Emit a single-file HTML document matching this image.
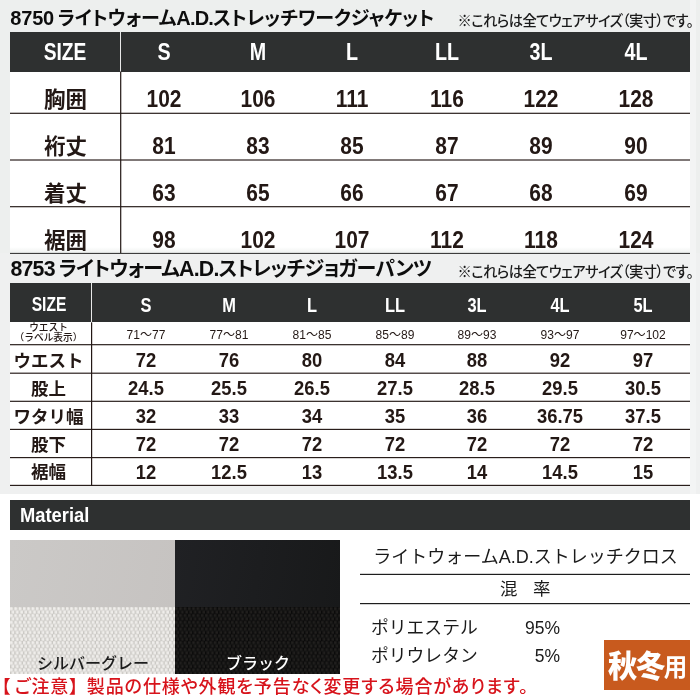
<!DOCTYPE html>
<html lang="ja"><head><meta charset="utf-8"><title>サイズ表</title>
<style>
html,body{margin:0;padding:0}
body{width:700px;height:700px;position:relative;overflow:hidden;background:#fff;font-family:"Liberation Sans","Noto Sans CJK JP",sans-serif}
#c{position:absolute;left:0;top:0;width:700px;height:700px;overflow:hidden}
#c div{position:absolute}
.t{white-space:nowrap;line-height:1}
</style></head><body><div id="c">
<div style="left:0px;top:0px;width:700px;height:253px;background:#edefee;"></div>
<div style="left:0px;top:253px;width:700px;height:241px;background:#eff0f0;"></div>
<div style="left:690px;top:0px;width:6px;height:494px;background:#f3f4f4;"></div>
<div style="left:0px;top:494px;width:700px;height:206px;background:#ffffff;"></div>
<div style="left:10px;top:32px;width:680px;height:216px;background:#ffffff;"></div>
<div style="left:10px;top:247px;width:680px;height:5.5px;background:#edefee;background-image:linear-gradient(#fff,#eef0ef);"></div>
<div style="left:10px;top:32px;width:680px;height:39.5px;background:#2e3030;"></div>
<div style="left:120px;top:32px;width:1px;height:40px;background:#e8e8e8;"></div>
<div class="t" style="left:65px;top:51.5px;font-size:24px;color:#fff;font-weight:700;transform:translate(-50%,-50%) scaleX(0.8);transform-origin:center;">SIZE</div>
<div class="t" style="left:163.5px;top:51.5px;font-size:24px;color:#fff;font-weight:700;transform:translate(-50%,-50%) scaleX(0.82);transform-origin:center;">S</div>
<div class="t" style="left:257.5px;top:51.5px;font-size:24px;color:#fff;font-weight:700;transform:translate(-50%,-50%) scaleX(0.82);transform-origin:center;">M</div>
<div class="t" style="left:352px;top:51.5px;font-size:24px;color:#fff;font-weight:700;transform:translate(-50%,-50%) scaleX(0.82);transform-origin:center;">L</div>
<div class="t" style="left:446.5px;top:51.5px;font-size:24px;color:#fff;font-weight:700;transform:translate(-50%,-50%) scaleX(0.82);transform-origin:center;">LL</div>
<div class="t" style="left:541px;top:51.5px;font-size:24px;color:#fff;font-weight:700;transform:translate(-50%,-50%) scaleX(0.82);transform-origin:center;">3L</div>
<div class="t" style="left:635.5px;top:51.5px;font-size:24px;color:#fff;font-weight:700;transform:translate(-50%,-50%) scaleX(0.82);transform-origin:center;">4L</div>
<div class="t" style="left:65.5px;top:100.6px;font-size:21.5px;color:#231815;font-weight:700;transform:translate(-50%,-50%) scaleX(1.0);transform-origin:center;">胸囲</div>
<div class="t" style="left:163.5px;top:98.6px;font-size:24.2px;color:#231815;font-weight:700;transform:translate(-50%,-50%) scaleX(0.865);transform-origin:center;">102</div>
<div class="t" style="left:257.5px;top:98.6px;font-size:24.2px;color:#231815;font-weight:700;transform:translate(-50%,-50%) scaleX(0.865);transform-origin:center;">106</div>
<div class="t" style="left:352px;top:98.6px;font-size:24.2px;color:#231815;font-weight:700;transform:translate(-50%,-50%) scaleX(0.865);transform-origin:center;">111</div>
<div class="t" style="left:446.5px;top:98.6px;font-size:24.2px;color:#231815;font-weight:700;transform:translate(-50%,-50%) scaleX(0.865);transform-origin:center;">116</div>
<div class="t" style="left:541px;top:98.6px;font-size:24.2px;color:#231815;font-weight:700;transform:translate(-50%,-50%) scaleX(0.865);transform-origin:center;">122</div>
<div class="t" style="left:635.5px;top:98.6px;font-size:24.2px;color:#231815;font-weight:700;transform:translate(-50%,-50%) scaleX(0.865);transform-origin:center;">128</div>
<div class="t" style="left:65.5px;top:147.7px;font-size:21.5px;color:#231815;font-weight:700;transform:translate(-50%,-50%) scaleX(1.0);transform-origin:center;">裄丈</div>
<div class="t" style="left:163.5px;top:145.7px;font-size:24.2px;color:#231815;font-weight:700;transform:translate(-50%,-50%) scaleX(0.865);transform-origin:center;">81</div>
<div class="t" style="left:257.5px;top:145.7px;font-size:24.2px;color:#231815;font-weight:700;transform:translate(-50%,-50%) scaleX(0.865);transform-origin:center;">83</div>
<div class="t" style="left:352px;top:145.7px;font-size:24.2px;color:#231815;font-weight:700;transform:translate(-50%,-50%) scaleX(0.865);transform-origin:center;">85</div>
<div class="t" style="left:446.5px;top:145.7px;font-size:24.2px;color:#231815;font-weight:700;transform:translate(-50%,-50%) scaleX(0.865);transform-origin:center;">87</div>
<div class="t" style="left:541px;top:145.7px;font-size:24.2px;color:#231815;font-weight:700;transform:translate(-50%,-50%) scaleX(0.865);transform-origin:center;">89</div>
<div class="t" style="left:635.5px;top:145.7px;font-size:24.2px;color:#231815;font-weight:700;transform:translate(-50%,-50%) scaleX(0.865);transform-origin:center;">90</div>
<div class="t" style="left:65.5px;top:194.9px;font-size:21.5px;color:#231815;font-weight:700;transform:translate(-50%,-50%) scaleX(1.0);transform-origin:center;">着丈</div>
<div class="t" style="left:163.5px;top:192.9px;font-size:24.2px;color:#231815;font-weight:700;transform:translate(-50%,-50%) scaleX(0.865);transform-origin:center;">63</div>
<div class="t" style="left:257.5px;top:192.9px;font-size:24.2px;color:#231815;font-weight:700;transform:translate(-50%,-50%) scaleX(0.865);transform-origin:center;">65</div>
<div class="t" style="left:352px;top:192.9px;font-size:24.2px;color:#231815;font-weight:700;transform:translate(-50%,-50%) scaleX(0.865);transform-origin:center;">66</div>
<div class="t" style="left:446.5px;top:192.9px;font-size:24.2px;color:#231815;font-weight:700;transform:translate(-50%,-50%) scaleX(0.865);transform-origin:center;">67</div>
<div class="t" style="left:541px;top:192.9px;font-size:24.2px;color:#231815;font-weight:700;transform:translate(-50%,-50%) scaleX(0.865);transform-origin:center;">68</div>
<div class="t" style="left:635.5px;top:192.9px;font-size:24.2px;color:#231815;font-weight:700;transform:translate(-50%,-50%) scaleX(0.865);transform-origin:center;">69</div>
<div class="t" style="left:65.5px;top:242px;font-size:21.5px;color:#231815;font-weight:700;transform:translate(-50%,-50%) scaleX(1.0);transform-origin:center;">裾囲</div>
<div class="t" style="left:163.5px;top:240px;font-size:24.2px;color:#231815;font-weight:700;transform:translate(-50%,-50%) scaleX(0.865);transform-origin:center;">98</div>
<div class="t" style="left:257.5px;top:240px;font-size:24.2px;color:#231815;font-weight:700;transform:translate(-50%,-50%) scaleX(0.865);transform-origin:center;">102</div>
<div class="t" style="left:352px;top:240px;font-size:24.2px;color:#231815;font-weight:700;transform:translate(-50%,-50%) scaleX(0.865);transform-origin:center;">107</div>
<div class="t" style="left:446.5px;top:240px;font-size:24.2px;color:#231815;font-weight:700;transform:translate(-50%,-50%) scaleX(0.865);transform-origin:center;">112</div>
<div class="t" style="left:541px;top:240px;font-size:24.2px;color:#231815;font-weight:700;transform:translate(-50%,-50%) scaleX(0.865);transform-origin:center;">118</div>
<div class="t" style="left:635.5px;top:240px;font-size:24.2px;color:#231815;font-weight:700;transform:translate(-50%,-50%) scaleX(0.865);transform-origin:center;">124</div>
<div class="t" style="left:10.3px;top:18.0px;color:#0d0d0d;font-weight:700;font-size:19px;font-feature-settings:'palt' 1;transform:translate(0,-50%)"><span style="font-size:20px;letter-spacing:-0.2px">8750</span><span style="font-size:20px;letter-spacing:-2px"> </span><span style="letter-spacing:-0.1px">ライトウォーム</span><span style="font-size:20px;letter-spacing:-0.8px">A.D.</span><span style="letter-spacing:-0.1px">ストレッチワークジャケット</span></div>
<div class="t" style="left:693.2px;top:21.2px;font-size:14.3px;color:#1a1a1a;font-weight:500;transform:translate(-100%,-50%) scaleX(1.0);transform-origin:right center;font-feature-settings:'palt' 1;letter-spacing:-0.55px;">※これらは全てウェアサイズ（実寸）です。</div>
<div class="t" style="left:10.5px;top:269.6px;color:#0d0d0d;font-weight:700;font-size:20px;font-feature-settings:'palt' 1;transform:translate(0,-50%)"><span style="font-size:21.3px;letter-spacing:-0.8px">8753</span><span style="font-size:21.3px;letter-spacing:-2px"> </span><span style="letter-spacing:-0.75px">ライトウォーム</span><span style="font-size:21.3px;letter-spacing:-0.8px">A.D.</span><span style="letter-spacing:-0.75px">ストレッチジョガーパンツ</span></div>
<div class="t" style="left:693.2px;top:272.2px;font-size:14.3px;color:#1a1a1a;font-weight:500;transform:translate(-100%,-50%) scaleX(1.0);transform-origin:right center;font-feature-settings:'palt' 1;letter-spacing:-0.55px;">※これらは全てウェアサイズ（実寸）です。</div>
<div style="left:10px;top:283px;width:680px;height:203px;background:#ffffff;"></div>
<div style="left:10px;top:283px;width:680px;height:39.4px;background:#2e3030;"></div>
<div style="left:91px;top:283px;width:1px;height:40px;background:#e8e8e8;"></div>
<div class="t" style="left:48.5px;top:304.5px;font-size:19.5px;color:#fff;font-weight:700;transform:translate(-50%,-50%) scaleX(0.8);transform-origin:center;">SIZE</div>
<div class="t" style="left:146.4px;top:305px;font-size:20px;color:#fff;font-weight:700;transform:translate(-50%,-50%) scaleX(0.82);transform-origin:center;">S</div>
<div class="t" style="left:229.1px;top:305px;font-size:20px;color:#fff;font-weight:700;transform:translate(-50%,-50%) scaleX(0.82);transform-origin:center;">M</div>
<div class="t" style="left:311.8px;top:305px;font-size:20px;color:#fff;font-weight:700;transform:translate(-50%,-50%) scaleX(0.82);transform-origin:center;">L</div>
<div class="t" style="left:394.5px;top:305px;font-size:20px;color:#fff;font-weight:700;transform:translate(-50%,-50%) scaleX(0.82);transform-origin:center;">LL</div>
<div class="t" style="left:477.2px;top:305px;font-size:20px;color:#fff;font-weight:700;transform:translate(-50%,-50%) scaleX(0.82);transform-origin:center;">3L</div>
<div class="t" style="left:559.9px;top:305px;font-size:20px;color:#fff;font-weight:700;transform:translate(-50%,-50%) scaleX(0.82);transform-origin:center;">4L</div>
<div class="t" style="left:642.6px;top:305px;font-size:20px;color:#fff;font-weight:700;transform:translate(-50%,-50%) scaleX(0.82);transform-origin:center;">5L</div>
<div class="t" style="left:48.5px;top:333px;font-size:9.7px;line-height:10.2px;color:#231815;font-weight:500;text-align:center;transform:translate(-50%,-50%)">ウエスト<br>（ラベル表示）</div>
<div class="t" style="left:146.4px;top:335.3px;font-size:12.3px;color:#231815;font-weight:400;transform:translate(-50%,-50%) scaleX(0.98);transform-origin:center;">71～77</div>
<div class="t" style="left:229.1px;top:335.3px;font-size:12.3px;color:#231815;font-weight:400;transform:translate(-50%,-50%) scaleX(0.98);transform-origin:center;">77～81</div>
<div class="t" style="left:311.8px;top:335.3px;font-size:12.3px;color:#231815;font-weight:400;transform:translate(-50%,-50%) scaleX(0.98);transform-origin:center;">81～85</div>
<div class="t" style="left:394.5px;top:335.3px;font-size:12.3px;color:#231815;font-weight:400;transform:translate(-50%,-50%) scaleX(0.98);transform-origin:center;">85～89</div>
<div class="t" style="left:477.2px;top:335.3px;font-size:12.3px;color:#231815;font-weight:400;transform:translate(-50%,-50%) scaleX(0.98);transform-origin:center;">89～93</div>
<div class="t" style="left:559.9px;top:335.3px;font-size:12.3px;color:#231815;font-weight:400;transform:translate(-50%,-50%) scaleX(0.98);transform-origin:center;">93～97</div>
<div class="t" style="left:642.6px;top:335.3px;font-size:12.3px;color:#231815;font-weight:400;transform:translate(-50%,-50%) scaleX(0.98);transform-origin:center;">97～102</div>
<div class="t" style="left:48.5px;top:361.5px;font-size:17.5px;color:#231815;font-weight:700;transform:translate(-50%,-50%) scaleX(1.0);transform-origin:center;">ウエスト</div>
<div class="t" style="left:146.4px;top:360.3px;font-size:20px;color:#231815;font-weight:700;transform:translate(-50%,-50%) scaleX(0.92);transform-origin:center;">72</div>
<div class="t" style="left:229.1px;top:360.3px;font-size:20px;color:#231815;font-weight:700;transform:translate(-50%,-50%) scaleX(0.92);transform-origin:center;">76</div>
<div class="t" style="left:311.8px;top:360.3px;font-size:20px;color:#231815;font-weight:700;transform:translate(-50%,-50%) scaleX(0.92);transform-origin:center;">80</div>
<div class="t" style="left:394.5px;top:360.3px;font-size:20px;color:#231815;font-weight:700;transform:translate(-50%,-50%) scaleX(0.92);transform-origin:center;">84</div>
<div class="t" style="left:477.2px;top:360.3px;font-size:20px;color:#231815;font-weight:700;transform:translate(-50%,-50%) scaleX(0.92);transform-origin:center;">88</div>
<div class="t" style="left:559.9px;top:360.3px;font-size:20px;color:#231815;font-weight:700;transform:translate(-50%,-50%) scaleX(0.92);transform-origin:center;">92</div>
<div class="t" style="left:642.6px;top:360.3px;font-size:20px;color:#231815;font-weight:700;transform:translate(-50%,-50%) scaleX(0.92);transform-origin:center;">97</div>
<div class="t" style="left:48.5px;top:389.5px;font-size:17.5px;color:#231815;font-weight:700;transform:translate(-50%,-50%) scaleX(1.0);transform-origin:center;">股上</div>
<div class="t" style="left:146.4px;top:388.3px;font-size:20px;color:#231815;font-weight:700;transform:translate(-50%,-50%) scaleX(0.92);transform-origin:center;">24.5</div>
<div class="t" style="left:229.1px;top:388.3px;font-size:20px;color:#231815;font-weight:700;transform:translate(-50%,-50%) scaleX(0.92);transform-origin:center;">25.5</div>
<div class="t" style="left:311.8px;top:388.3px;font-size:20px;color:#231815;font-weight:700;transform:translate(-50%,-50%) scaleX(0.92);transform-origin:center;">26.5</div>
<div class="t" style="left:394.5px;top:388.3px;font-size:20px;color:#231815;font-weight:700;transform:translate(-50%,-50%) scaleX(0.92);transform-origin:center;">27.5</div>
<div class="t" style="left:477.2px;top:388.3px;font-size:20px;color:#231815;font-weight:700;transform:translate(-50%,-50%) scaleX(0.92);transform-origin:center;">28.5</div>
<div class="t" style="left:559.9px;top:388.3px;font-size:20px;color:#231815;font-weight:700;transform:translate(-50%,-50%) scaleX(0.92);transform-origin:center;">29.5</div>
<div class="t" style="left:642.6px;top:388.3px;font-size:20px;color:#231815;font-weight:700;transform:translate(-50%,-50%) scaleX(0.92);transform-origin:center;">30.5</div>
<div class="t" style="left:48.5px;top:417.5px;font-size:17.5px;color:#231815;font-weight:700;transform:translate(-50%,-50%) scaleX(1.0);transform-origin:center;">ワタリ幅</div>
<div class="t" style="left:146.4px;top:416.3px;font-size:20px;color:#231815;font-weight:700;transform:translate(-50%,-50%) scaleX(0.92);transform-origin:center;">32</div>
<div class="t" style="left:229.1px;top:416.3px;font-size:20px;color:#231815;font-weight:700;transform:translate(-50%,-50%) scaleX(0.92);transform-origin:center;">33</div>
<div class="t" style="left:311.8px;top:416.3px;font-size:20px;color:#231815;font-weight:700;transform:translate(-50%,-50%) scaleX(0.92);transform-origin:center;">34</div>
<div class="t" style="left:394.5px;top:416.3px;font-size:20px;color:#231815;font-weight:700;transform:translate(-50%,-50%) scaleX(0.92);transform-origin:center;">35</div>
<div class="t" style="left:477.2px;top:416.3px;font-size:20px;color:#231815;font-weight:700;transform:translate(-50%,-50%) scaleX(0.92);transform-origin:center;">36</div>
<div class="t" style="left:559.9px;top:416.3px;font-size:20px;color:#231815;font-weight:700;transform:translate(-50%,-50%) scaleX(0.92);transform-origin:center;">36.75</div>
<div class="t" style="left:642.6px;top:416.3px;font-size:20px;color:#231815;font-weight:700;transform:translate(-50%,-50%) scaleX(0.92);transform-origin:center;">37.5</div>
<div class="t" style="left:48.5px;top:445.59999999999997px;font-size:17.5px;color:#231815;font-weight:700;transform:translate(-50%,-50%) scaleX(1.0);transform-origin:center;">股下</div>
<div class="t" style="left:146.4px;top:444.4px;font-size:20px;color:#231815;font-weight:700;transform:translate(-50%,-50%) scaleX(0.92);transform-origin:center;">72</div>
<div class="t" style="left:229.1px;top:444.4px;font-size:20px;color:#231815;font-weight:700;transform:translate(-50%,-50%) scaleX(0.92);transform-origin:center;">72</div>
<div class="t" style="left:311.8px;top:444.4px;font-size:20px;color:#231815;font-weight:700;transform:translate(-50%,-50%) scaleX(0.92);transform-origin:center;">72</div>
<div class="t" style="left:394.5px;top:444.4px;font-size:20px;color:#231815;font-weight:700;transform:translate(-50%,-50%) scaleX(0.92);transform-origin:center;">72</div>
<div class="t" style="left:477.2px;top:444.4px;font-size:20px;color:#231815;font-weight:700;transform:translate(-50%,-50%) scaleX(0.92);transform-origin:center;">72</div>
<div class="t" style="left:559.9px;top:444.4px;font-size:20px;color:#231815;font-weight:700;transform:translate(-50%,-50%) scaleX(0.92);transform-origin:center;">72</div>
<div class="t" style="left:642.6px;top:444.4px;font-size:20px;color:#231815;font-weight:700;transform:translate(-50%,-50%) scaleX(0.92);transform-origin:center;">72</div>
<div class="t" style="left:48.5px;top:473.3px;font-size:17.5px;color:#231815;font-weight:700;transform:translate(-50%,-50%) scaleX(1.0);transform-origin:center;">裾幅</div>
<div class="t" style="left:146.4px;top:472.1px;font-size:20px;color:#231815;font-weight:700;transform:translate(-50%,-50%) scaleX(0.92);transform-origin:center;">12</div>
<div class="t" style="left:229.1px;top:472.1px;font-size:20px;color:#231815;font-weight:700;transform:translate(-50%,-50%) scaleX(0.92);transform-origin:center;">12.5</div>
<div class="t" style="left:311.8px;top:472.1px;font-size:20px;color:#231815;font-weight:700;transform:translate(-50%,-50%) scaleX(0.92);transform-origin:center;">13</div>
<div class="t" style="left:394.5px;top:472.1px;font-size:20px;color:#231815;font-weight:700;transform:translate(-50%,-50%) scaleX(0.92);transform-origin:center;">13.5</div>
<div class="t" style="left:477.2px;top:472.1px;font-size:20px;color:#231815;font-weight:700;transform:translate(-50%,-50%) scaleX(0.92);transform-origin:center;">14</div>
<div class="t" style="left:559.9px;top:472.1px;font-size:20px;color:#231815;font-weight:700;transform:translate(-50%,-50%) scaleX(0.92);transform-origin:center;">14.5</div>
<div class="t" style="left:642.6px;top:472.1px;font-size:20px;color:#231815;font-weight:700;transform:translate(-50%,-50%) scaleX(0.92);transform-origin:center;">15</div>
<div style="left:10px;top:500px;width:680px;height:29.6px;background:#2e3030;"></div>
<div class="t" style="left:19.7px;top:516px;font-size:19.5px;color:#fff;font-weight:700;transform:translate(0,-50%) scaleX(0.94);transform-origin:left center;">Material</div>
<div style="left:10px;top:540px;width:165px;height:66.7px;background:#c9c6c4;background-image:linear-gradient(100deg,#cbc9c7,#c6c3c1);"></div>
<div style="left:10px;top:606.7px;width:165px;height:67px;background:#c9c7c3;background-image:radial-gradient(circle at 27% 25%, #f3f2f0 0, #eae8e5 20%, rgba(214,212,208,0) 46%),radial-gradient(circle at 77% 75%, #f3f2f0 0, #eae8e5 20%, rgba(214,212,208,0) 46%);background-size:4.3px 6.8px;"></div>
<div style="left:175px;top:540px;width:165px;height:66.7px;background:#1b1c1e;background-image:linear-gradient(100deg,#202124,#18191a);"></div>
<div style="left:175px;top:606.7px;width:165px;height:67px;background:#0a0a0a;background-image:radial-gradient(circle at 27% 25%, #262422 0, #1a1918 22%, rgba(12,12,11,0) 48%),radial-gradient(circle at 77% 75%, #262422 0, #1a1918 22%, rgba(12,12,11,0) 48%);background-size:4.3px 6.8px;"></div>
<div class="t" style="left:93px;top:663.7px;font-size:16px;color:#1c1c1c;font-weight:500;transform:translate(-50%,-50%) scaleX(1.0);transform-origin:center;">シルバーグレー</div>
<div class="t" style="left:258px;top:663.7px;font-size:16px;color:#fff;font-weight:500;transform:translate(-50%,-50%) scaleX(1.0);transform-origin:center;">ブラック</div>
<div class="t" style="left:525.5px;top:557px;font-size:18px;color:#1a1a1a;font-weight:400;transform:translate(-50%,-50%) scaleX(1.0);transform-origin:center;">ライトウォームA.D.ストレッチクロス</div>
<div class="t" style="left:525.2px;top:590.1px;font-size:17.5px;color:#1a1a1a;font-weight:400;transform:translate(-50%,-50%) scaleX(1.0);transform-origin:center;">混<span style="display:inline-block;width:15.6px"></span>率</div>
<div class="t" style="left:371px;top:628.8px;font-size:17.8px;color:#1a1a1a;font-weight:400;transform:translate(0,-50%) scaleX(1.0);transform-origin:left center;">ポリエステル</div>
<div class="t" style="left:560px;top:629.0px;font-size:17.5px;color:#1a1a1a;font-weight:400;transform:translate(-100%,-50%) scaleX(1.0);transform-origin:right center;">95%</div>
<div class="t" style="left:371px;top:657.1px;font-size:17.8px;color:#1a1a1a;font-weight:400;transform:translate(0,-50%) scaleX(1.0);transform-origin:left center;">ポリウレタン</div>
<div class="t" style="left:560px;top:656.8px;font-size:17.5px;color:#1a1a1a;font-weight:400;transform:translate(-100%,-50%) scaleX(1.0);transform-origin:right center;">5%</div>
<div style="left:604px;top:640px;width:86px;height:50px;background:#c85a1e;"></div>
<div class="t" style="left:608px;top:665.5px;color:#fff;font-weight:900;transform:translate(0,-50%) scaleY(1.045);transform-origin:left center;font-size:29.3px;letter-spacing:-1.2px">秋冬<span style="font-size:23.5px;font-weight:700;letter-spacing:0;position:relative;top:-1.5px;margin-left:-0.5px">用</span></div>
<div class="t" style="left:1.3px;top:687.3px;color:#d7131b;font-weight:500;font-size:18px;letter-spacing:0.9px;font-feature-settings:'palt' 1;transform:translate(0,-50%)"><span style="margin-right:3.5px">【</span>ご注意<span style="margin-right:7.7px">】</span>製品の仕様や外観を予告なく変更する場合があります。</div>
<svg width="700" height="700" viewBox="0 0 700 700" style="position:absolute;left:0;top:0"><rect x="10" y="112.72" width="680" height="1.15" fill="#231815"/><rect x="10" y="159.43" width="680" height="1.15" fill="#231815"/><rect x="10" y="206.12" width="680" height="1.15" fill="#231815"/><rect x="10" y="252.90" width="680" height="1.0" fill="#2a2a2a"/><rect x="120.10" y="71.5" width="1.2" height="181.5" fill="#231815"/><rect x="10" y="344.12" width="680" height="1.15" fill="#231815"/><rect x="10" y="372.62" width="680" height="1.15" fill="#231815"/><rect x="10" y="400.73" width="680" height="1.15" fill="#231815"/><rect x="10" y="428.82" width="680" height="1.15" fill="#231815"/><rect x="10" y="457.03" width="680" height="1.15" fill="#231815"/><rect x="10" y="484.82" width="680" height="1.15" fill="#231815"/><rect x="91.00" y="322.4" width="1.2" height="163.0" fill="#231815"/><rect x="360" y="573.80" width="330" height="1.2" fill="#1e1e1e"/><rect x="360" y="603.00" width="330" height="1.2" fill="#1e1e1e"/></svg>
</div></body></html>
